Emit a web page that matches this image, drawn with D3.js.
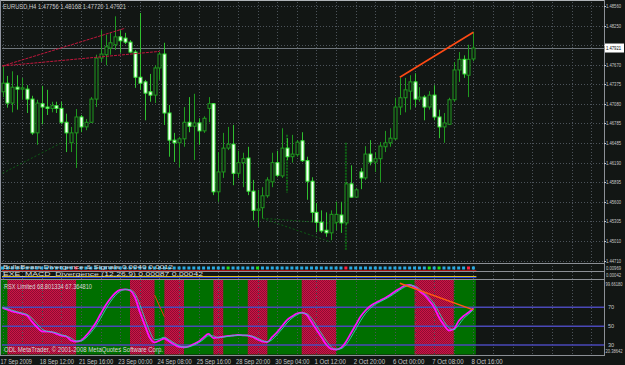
<!DOCTYPE html>
<html>
<head>
<meta charset="utf-8">
<script src="https://cdn.jsdelivr.net/npm/d3@7"></script>
<style>
  body { margin: 0; background: #121614; }
  svg { display: block; }
  text { font-family: "Liberation Sans", Arial, sans-serif; }
</style>
</head>
<body>
<div id="chart"></div>
<script>
// EURUSD H4, 97 bars (17 Sep 2009 .. 8 Oct 16:00)
var opens = [1.4726,1.4739,1.4709,1.4733,1.4730,1.4730,1.4715,1.4664,1.4708,1.4703,
  1.4701,1.4705,1.4701,1.4680,1.4649,1.4664,1.4688,1.4673,1.4680,1.4715,
  1.4777,1.4782,1.4792,1.4797,1.4809,1.4807,1.4801,1.4786,1.4748,1.4741,
  1.4726,1.4721,1.4762,1.4783,1.4694,1.4653,1.4649,1.4655,1.4680,1.4674,
  1.4679,1.4667,1.4701,1.4708,1.4575,1.4605,1.4641,1.4647,1.4603,1.4619,
  1.4626,1.4576,1.4547,1.4551,1.4569,1.4590,1.4619,1.4599,1.4641,1.4628,
  1.4631,1.4652,1.4622,1.4591,1.4544,1.4529,1.4517,1.4513,1.4529,1.4540,
  1.4528,1.4587,1.4567,1.4605,1.4596,1.4632,1.4620,1.4625,1.4643,1.4649,
  1.4655,1.4703,1.4717,1.4727,1.4741,1.4715,1.4718,1.4703,1.4721,1.4688,
  1.4673,1.4677,1.4714,1.4759,1.4775,1.4751,1.47756];
var highs = [1.4766,1.4750,1.4757,1.4751,1.4747,1.4736,1.4720,1.4714,1.4735,1.4729,
  1.4711,1.4711,1.4711,1.4693,1.4673,1.4700,1.4691,1.4685,1.4718,1.4782,
  1.4819,1.4812,1.4815,1.4840,1.4819,1.4815,1.4804,1.4789,1.4845,1.4744,
  1.4753,1.4766,1.4786,1.4800,1.4706,1.4664,1.4658,1.4703,1.4718,1.4723,
  1.4686,1.4689,1.4718,1.4709,1.4635,1.4664,1.4673,1.4676,1.4637,1.4634,
  1.4643,1.4593,1.4578,1.4582,1.4597,1.4634,1.4637,1.4671,1.4656,1.4661,
  1.4653,1.4665,1.4628,1.4597,1.4558,1.4547,1.4544,1.4547,1.4560,1.4560,
  1.4590,1.4615,1.4581,1.4611,1.4644,1.4653,1.4635,1.4650,1.4667,1.4671,
  1.4717,1.4747,1.4747,1.4751,1.4754,1.4733,1.4721,1.4727,1.4736,1.4699,
  1.4694,1.4717,1.4771,1.4786,1.4781,1.4797,1.48168];
var lows = [1.4718,1.4702,1.4695,1.4699,1.4714,1.4694,1.4661,1.4646,1.4677,1.4691,
  1.4695,1.4694,1.4677,1.4635,1.4635,1.4611,1.4665,1.4668,1.4679,1.4703,
  1.4771,1.4766,1.4782,1.4789,1.4785,1.4798,1.4785,1.4732,1.4729,1.4683,
  1.4711,1.4709,1.4744,1.4676,1.4628,1.4620,1.4612,1.4643,1.4665,1.4623,
  1.4646,1.4664,1.4680,1.4570,1.4560,1.4596,1.4638,1.4585,1.4596,1.4582,
  1.4570,1.4532,1.4522,1.4535,1.4566,1.4582,1.4597,1.4596,1.4623,1.4619,
  1.4628,1.4620,1.4563,1.4529,1.4514,1.4513,1.4507,1.4502,1.4517,1.4513,
  1.4525,1.4566,1.4567,1.4579,1.4593,1.4615,1.4605,1.4590,1.4635,1.4643,
  1.4653,1.4691,1.4695,1.4699,1.4703,1.4711,1.4683,1.4699,1.4683,1.4656,
  1.4649,1.4676,1.4711,1.4741,1.4747,1.4718,1.47720];
var closes = [1.4739,1.4709,1.4733,1.4730,1.4732,1.4715,1.4664,1.4709,1.4703,1.4701,
  1.4705,1.4701,1.4680,1.4664,1.4664,1.4688,1.4673,1.4680,1.4715,1.4777,
  1.4783,1.4794,1.4800,1.4809,1.4803,1.4801,1.4786,1.4748,1.4739,1.4724,
  1.4721,1.4762,1.4783,1.4694,1.4653,1.4649,1.4655,1.4680,1.4674,1.4679,
  1.4667,1.4686,1.4708,1.4575,1.4605,1.4641,1.4647,1.4603,1.4619,1.4625,
  1.4576,1.4547,1.4549,1.4569,1.4593,1.4619,1.4600,1.4641,1.4628,1.4632,
  1.4650,1.4622,1.4591,1.4544,1.4529,1.4516,1.4513,1.4541,1.4541,1.4528,
  1.4587,1.4567,1.4578,1.4596,1.4632,1.4620,1.4625,1.4644,1.4649,1.4656,
  1.4703,1.4717,1.4729,1.4741,1.4715,1.4718,1.4703,1.4721,1.4688,1.4673,
  1.4679,1.4714,1.4759,1.4775,1.4753,1.4775,1.47921];

// RSX indicator, two lines
var rsxMain = [69.3,67.5,65.7,64.4,63.1,61.3,54.9,49.1,44.5,44.2,
  43.7,41.8,40.0,39.0,34.8,33.5,34.8,39.6,45.9,53.3,
  62.9,71.9,79.3,85.2,88.4,89.1,87.8,80.4,65.0,51.2,
  38.0,32.7,34.8,36.9,33.7,30.5,27.9,27.6,28.6,31.1,
  33.7,38.0,41.7,37.4,38.0,38.8,39.6,40.1,40.6,40.3,
  40.1,38.5,35.8,33.7,33.2,38.5,43.8,50.2,56.5,60.2,
  63.4,64.3,62.1,54.4,46.4,38.5,30.5,25.8,25.2,27.0,
  33.2,42.2,51.2,60.2,66.6,71.4,74.6,77.2,79.9,83.1,
  86.8,89.9,93.1,93.7,91.5,87.3,83.1,77.2,69.8,59.2,
  51.2,45.4,47.0,55.5,60.8,64.5,68.8];
var rsxSignal = [69.8,68.6,66.8,65.2,63.9,62.4,58.5,52.6,47.1,44.6,
  44.0,42.9,40.9,39.6,37.2,34.3,34.3,37.4,43.0,49.8,
  58.3,67.6,75.8,82.5,86.9,88.8,88.6,84.4,72.8,58.3,
  44.7,35.6,36.5,38.2,35.4,32.2,29.2,27.8,28.1,29.9,
  32.4,35.9,39.8,39.6,37.7,38.4,39.2,39.9,40.4,40.5,
  40.2,39.3,37.2,34.8,33.4,35.8,41.1,47.0,53.4,58.4,
  61.8,63.9,63.2,58.3,50.4,42.5,34.5,28.2,25.5,26.1,
  30.1,37.7,46.7,55.7,63.4,69.0,73.0,75.9,78.6,81.5,
  85.0,88.4,91.5,93.4,92.6,89.4,85.2,80.2,73.5,64.5,
  55.2,48.3,46.2,51.2,58.1,62.6,67.4];
// red (overbought) zones in the RSX window, [first bar, last bar]
var redZones = [[1,15],[26,31],[33,37],[43,45],[50,54],[61,68],[84,92]];
var rsxLevels = [70, 50, 30];

// time axis: one label every 8 bars
var timeLabels = ["17 Sep 2009","18 Sep 12:00","21 Sep 16:00","23 Sep 00:00","24 Sep 08:00",
  "25 Sep 16:00","28 Sep 20:00","30 Sep 04:00","1 Oct 12:00","2 Oct 20:00",
  "6 Oct 00:00","7 Oct 08:00","8 Oct 16:00"];
var priceTicks = [1.48560,1.48260,1.47965,1.47670,1.47375,1.47080,1.46785,1.46485,
  1.46190,1.45895,1.45600,1.45305,1.45010,1.44710];
var priceLabels = ["1.48560","1.48250","","1.47670","1.47375","1.47080","1.46785","1.46485",
  "1.46190","1.45895","1.45600","1.45305","1.45010",""];
var bid = 1.47921;

// drawn objects [bar, price]
var crimsonLines = [[[0, 1.4765], [25, 1.4822]], [[0, 1.4765], [32, 1.4787]]];
var orangeLine = [[81, 1.4748], [96, 1.4816]];
var darkLines = [[[0, 1.4603], [12, 1.4649]], [[53, 1.4535], [68, 1.4527]], [[53, 1.4535], [67, 1.4499]]];
var darkMarks = [[58, 1.4661, 1.4574], [70, 1.4649, 1.4487]];
var rsxRedLine = [[31, 83], [33, 60]];
var rsxOrangeLine = [[81, 95.5], [96, 67.3]];

var W = 625, H = 365;
var bg = "#121614", gridCol = "#4c535a", txt = "#c8c8c8";

var svg = d3.select("#chart").append("svg").attr("width", W).attr("height", H);
svg.append("rect").attr("width", W).attr("height", H).attr("fill", bg);

var x = d3.scaleLinear().domain([0, 96]).range([2.5, 473.4]);
var y = d3.scaleLinear().domain([1.44710, 1.48560]).range([260.7, 5.7]);
var yr = d3.scaleLinear().domain([30, 70]).range([345, 307.3]);
var half = (x(1) - x(0)) / 2;

var defs = svg.append("defs");
var pat = defs.append("pattern").attr("id", "hatch")
  .attr("width", 2).attr("height", 2).attr("patternUnits", "userSpaceOnUse");
pat.append("rect").attr("width", 2).attr("height", 2).attr("fill", "#cc1446");
pat.append("rect").attr("width", 1).attr("height", 1).attr("fill", "#8e0c32");
pat.append("rect").attr("x", 1).attr("y", 1).attr("width", 1).attr("height", 1).attr("fill", "#8e0c32");
defs.append("clipPath").attr("id", "mainClip").append("rect")
  .attr("x", 1).attr("y", 2).attr("width", 603).attr("height", 261);

// ---- RSX window background (green / red zones)
svg.append("rect")
  .attr("x", x(0) - half).attr("y", 280)
  .attr("width", x(96) + half - (x(0) - half)).attr("height", 74.5)
  .attr("fill", "#006f00");
svg.selectAll("rect.zone").data(redZones).enter().append("rect")
  .attr("class", "zone")
  .attr("x", function(d) { return x(d[0]); })
  .attr("y", 280)
  .attr("width", function(d) { return x(d[1]) - x(d[0]); })
  .attr("height", 74.5)
  .attr("fill", "url(#hatch)");

// ---- grid
var gridBars = d3.range(0, 121, 4);
svg.selectAll("line.vgrid").data(gridBars).enter().append("line")
  .attr("class", "vgrid")
  .attr("x1", function(d) { return Math.round(x(d)) + 0.5; })
  .attr("x2", function(d) { return Math.round(x(d)) + 0.5; })
  .attr("y1", 2).attr("y2", 355)
  .attr("stroke", gridCol).attr("stroke-dasharray", "1,2");
svg.selectAll("line.hgrid").data(priceTicks).enter().append("line")
  .attr("class", "hgrid")
  .attr("x1", 2).attr("x2", 604)
  .attr("y1", function(d) { return Math.round(y(d)) + 0.5; })
  .attr("y2", function(d) { return Math.round(y(d)) + 0.5; })
  .attr("stroke", gridCol).attr("stroke-dasharray", "1,2");

// bid line
svg.append("line").attr("x1", 2).attr("x2", 604)
  .attr("y1", Math.round(y(bid)) + 0.5).attr("y2", Math.round(y(bid)) + 0.5)
  .attr("stroke", "#70767c");

// ---- main chart
var main = svg.append("g").attr("clip-path", "url(#mainClip)");
var bars = d3.range(opens.length);

function linePts(pts) {
  return d3.line().x(function(d) { return x(d[0]); }).y(function(d) { return y(d[1]); })(pts);
}
darkLines.forEach(function(l) {
  main.append("path").attr("d", linePts(l)).attr("fill", "none")
    .attr("stroke", "#0d5a14").attr("stroke-dasharray", "2,2");
});
main.selectAll("line.mark").data(darkMarks).enter().append("line")
  .attr("x1", function(d) { return x(d[0]); }).attr("x2", function(d) { return x(d[0]); })
  .attr("y1", function(d) { return y(d[1]); }).attr("y2", function(d) { return y(d[2]); })
  .attr("stroke", "#0e6414").attr("stroke-width", 2).attr("stroke-dasharray", "2,1");

main.selectAll("line.wick").data(bars).enter().append("line")
  .attr("class", "wick")
  .attr("x1", function(i) { return Math.round(x(i)) + 0.5; })
  .attr("x2", function(i) { return Math.round(x(i)) + 0.5; })
  .attr("y1", function(i) { return y(highs[i]); })
  .attr("y2", function(i) { return y(lows[i]); })
  .attr("stroke", function(i) { return closes[i] < opens[i] ? "#2fc02f" : "#1f9a1f"; });

main.selectAll("rect.body").data(bars).enter().append("rect")
  .attr("class", "body")
  .attr("x", function(i) { return Math.round(x(i)) - 1; })
  .attr("y", function(i) { return y(Math.max(opens[i], closes[i])); })
  .attr("width", 3)
  .attr("height", function(i) { return Math.max(1, Math.abs(y(opens[i]) - y(closes[i]))); })
  .attr("fill", function(i) { return closes[i] < opens[i] ? "#ffffff" : bg; })
  .attr("stroke", function(i) { return closes[i] < opens[i] ? "#3cf03c" : "#1f9a1f"; })
  .attr("stroke-width", 1);

crimsonLines.forEach(function(l) {
  main.append("path").attr("d", linePts(l)).attr("fill", "none")
    .attr("stroke", "#c0163c").attr("stroke-width", 1).attr("stroke-dasharray", "3,1");
});
main.append("path").attr("d", linePts(orangeLine)).attr("fill", "none")
  .attr("stroke", "#ff4a14").attr("stroke-width", 1.6);

main.append("text").attr("x", 3).attr("y", 9)
  .attr("font-size", 6.6).attr("fill", txt)
  .attr("textLength", 123).attr("lengthAdjust", "spacingAndGlyphs")
  .text("EURUSD,H4  1.47756 1.48168 1.47720 1.47921");

// ---- small indicator windows (divergence signals)
svg.selectAll("rect.sig").data(bars).enter().append("rect")
  .attr("class", "sig")
  .attr("x", function(i) { return x(i) - 1.5; })
  .attr("y", 266.5).attr("width", 3).attr("height", 3)
  .attr("fill", function(i) { return i === 70 || i === 95 || i === 15 ? "#ff2040"
      : (i === 46 || i === 52 || i === 87 || i === 89 ? "#20e020" : "#2aa8e0"); });
svg.append("line").attr("x1", 2).attr("x2", x(96) + 3).attr("y1", 270.5).attr("y2", 270.5)
  .attr("stroke", "#a01010");
svg.append("text").attr("x", 3).attr("y", 269).attr("font-size", 5.5).attr("fill", "#d8d8d8")
  .attr("textLength", 170).attr("lengthAdjust", "spacingAndGlyphs")
  .text("BullsBears Divergence & Signals  0.0040  0.0012");
svg.append("line").attr("x1", 2).attr("x2", x(96) + 3).attr("y1", 276.5).attr("y2", 276.5)
  .attr("stroke", "#d8c020");
svg.append("line").attr("x1", 2).attr("x2", x(96) + 3).attr("y1", 277.5).attr("y2", 277.5)
  .attr("stroke", "#2040e0");
svg.append("text").attr("x", 3).attr("y", 276).attr("font-size", 5.5).attr("fill", "#d8d8d8")
  .attr("textLength", 200).attr("lengthAdjust", "spacingAndGlyphs")
  .text("EXE_MACD_Divergence (12,26,9)  0.00087  0.00042");

// ---- RSX window
svg.selectAll("line.level").data(rsxLevels).enter().append("line")
  .attr("x1", 2).attr("x2", 604)
  .attr("y1", function(d) { return yr(d); }).attr("y2", function(d) { return yr(d); })
  .attr("stroke", "#4a48b8").attr("stroke-width", 1.5);

var rsxLine = d3.line().x(function(d, i) { return x(i); }).y(function(d) { return yr(d); })
  .curve(d3.curveMonotoneX);
svg.append("path").attr("d", rsxLine(rsxMain)).attr("fill", "none")
  .attr("stroke", "#ff10ff").attr("stroke-width", 1.8);
svg.append("path").attr("d", rsxLine(rsxSignal)).attr("fill", "none")
  .attr("stroke", "#38c8c0").attr("stroke-width", 0.9);

function rsxPts(pts) {
  return d3.line().x(function(d) { return x(d[0]); }).y(function(d) { return yr(d[1]); })(pts);
}
svg.append("path").attr("d", rsxPts(rsxRedLine)).attr("fill", "none")
  .attr("stroke", "#ff2a1a").attr("stroke-width", 1);
svg.append("path").attr("d", rsxPts(rsxOrangeLine)).attr("fill", "none")
  .attr("stroke", "#ff5a10").attr("stroke-width", 1.5);

svg.append("text").attr("x", 4).attr("y", 289).attr("font-size", 6.4).attr("fill", "#d8d8d8")
  .attr("textLength", 88).attr("lengthAdjust", "spacingAndGlyphs")
  .text("RSX Limited 68.801334 67.364810");
svg.append("text").attr("x", 4).attr("y", 351.5).attr("font-size", 6.4).attr("fill", "#d8d8d8")
  .attr("textLength", 159).attr("lengthAdjust", "spacingAndGlyphs")
  .text("ODL MetaTrader, \u00a9 2001-2008 MetaQuotes Software Corp.");

// ---- frame / separators
[263.5, 271.5, 279.5, 355.5].forEach(function(v) {
  svg.append("line").attr("x1", 0).attr("x2", 604).attr("y1", v).attr("y2", v)
    .attr("stroke", "#8c9096");
});
svg.append("line").attr("x1", 0).attr("x2", 604).attr("y1", 0.5).attr("y2", 0.5).attr("stroke", "#b0b4b8");
svg.append("line").attr("x1", 0.5).attr("x2", 0.5).attr("y1", 0).attr("y2", 356).attr("stroke", "#9094a0");
svg.append("line").attr("x1", 604.5).attr("x2", 604.5).attr("y1", 0).attr("y2", 356).attr("stroke", "#8c9096");

// ---- price axis (labels squeezed so they stay inside the window)
var ax = svg.append("g");
function axLabel(yPos, label) {
  var longer = label.length > 7;
  ax.append("text").attr("x", longer ? 605.5 : 606).attr("y", yPos)
    .attr("font-size", longer ? 4.5 : 5.2).attr("fill", txt)
    .attr("textLength", longer ? 17 : 15).attr("lengthAdjust", "spacingAndGlyphs")
    .text(label);
}
priceTicks.forEach(function(p, k) {
  ax.append("line").attr("x1", 604).attr("x2", 606)
    .attr("y1", Math.round(y(p)) + 0.5).attr("y2", Math.round(y(p)) + 0.5).attr("stroke", txt);
  if (priceLabels[k]) axLabel(y(p) + 2, priceLabels[k]);
});
axLabel(262.5, "1.44710");
ax.append("rect").attr("x", 605).attr("y", y(bid) - 4.5).attr("width", 19).attr("height", 9).attr("fill", "#ffffff");
ax.append("text").attr("x", 606).attr("y", y(bid) + 2).attr("font-size", 5.2).attr("fill", "#000")
  .attr("textLength", 15).attr("lengthAdjust", "spacingAndGlyphs").text("1.47921");
axLabel(269.5, "0.00969");
axLabel(277, "0.00042");
axLabel(286, "99.66180");
rsxLevels.forEach(function(v) {
  ax.append("text").attr("x", 608).attr("y", yr(v) + 2).attr("font-size", 5.6).attr("fill", txt).text(v);
});
axLabel(353, "20.38642");

// ---- time axis
svg.selectAll("text.tl").data(timeLabels).enter().append("text")
  .attr("class", "tl")
  .attr("x", function(d, k) { return x(k * 8) - 2; })
  .attr("y", 363.5)
  .attr("font-size", 6.4).attr("fill", txt)
  .attr("textLength", function(d) { return d.length * 2.85; })
  .attr("lengthAdjust", "spacingAndGlyphs")
  .text(function(d) { return d; });
</script>
</body>
</html>
